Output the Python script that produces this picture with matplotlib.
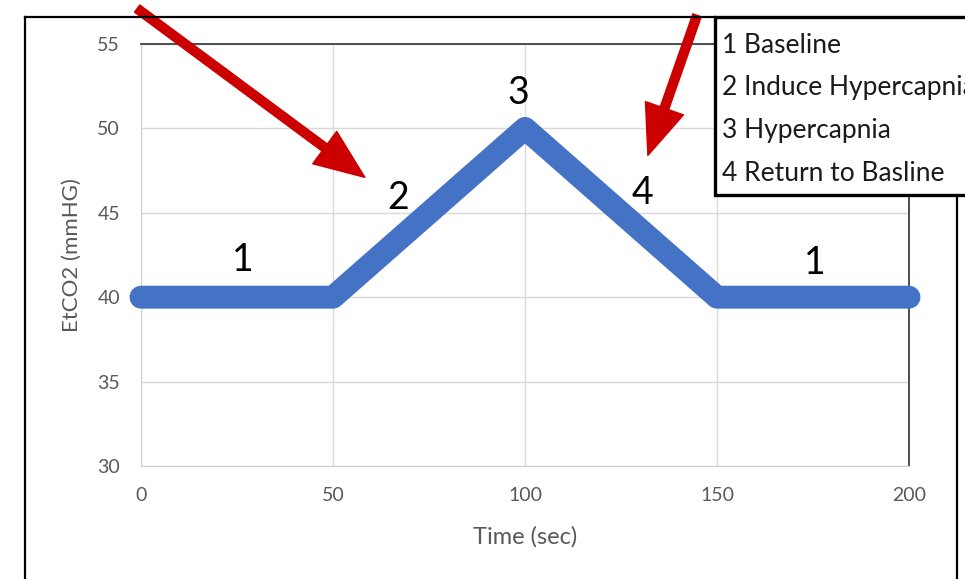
import matplotlib
matplotlib.use('Agg')
import matplotlib.pyplot as plt
from matplotlib.patches import Rectangle
from matplotlib.lines import Line2D

plt.rcParams['font.family'] = ['Lato', 'DejaVu Sans']

# protocol trace
time_sec = [0, 50, 100, 150, 200]
etco2 = [40, 40, 50, 40, 40]

# phase numbers written on the chart
phase_labels = ['1', '2', '3', '4', '1']
phase_x = [26.6, 66.9, 98.2, 130.7, 175.5]
phase_y = [42.2, 45.9, 52.1, 46.2, 42.0]

legend_items = ['1 Baseline', '2 Induce Hypercapnia', '3 Hypercapnia', '4 Return to Basline']

# red callout arrows (tail -> tip, data units)
arrow_tails = [(-1.0, 57.1), (144.8, 56.7)]
arrow_tips = [(58.3, 47.1), (132.0, 48.4)]

xticks = [0, 50, 100, 150, 200]
yticks = [30, 35, 40, 45, 50, 55]

fig = plt.figure(figsize=(9.65, 5.79), dpi=100)
ax = fig.add_axes([0.1461, 0.1952, 0.7959, 0.7288])

ax.plot(time_sec, etco2, c='#4472C4', lw=16.5, solid_capstyle='round',
        solid_joinstyle='round', zorder=3, clip_on=False)

ax.set_xlim(0, 200)
ax.set_ylim(30, 55)
ax.set_xticks(xticks)
ax.set_yticks(yticks)
ax.grid(True, color='#d9d9d9', lw=1)
ax.tick_params(length=0, labelsize=14, labelcolor='#595959', pad=15)
for s in ['left', 'bottom']:
    ax.spines[s].set_color('#d0d0d0')
for s in ['top', 'right']:
    ax.spines[s].set_color('#404040')
    ax.spines[s].set_linewidth(1.3)

ax.set_xlabel('Time (sec)', fontsize=17, color='#595959')
ax.set_ylabel('EtCO2 (mmHG)', fontsize=16, color='#595959')
ax.xaxis.set_label_coords(0.5, -0.142)
ax.yaxis.set_label_coords(-0.077, 0.5)

for lab, x, y in zip(phase_labels, phase_x, phase_y):
    ax.text(x, y, lab, fontsize=27, ha='center', va='center', color='black', zorder=4)

for tail, tip in zip(arrow_tails, arrow_tips):
    ax.annotate('', xy=tip, xytext=tail, annotation_clip=False, zorder=5,
                arrowprops=dict(arrowstyle='simple,head_length=1.8,head_width=1.45,tail_width=0.32',
                                mutation_scale=20, color='#CC0000', shrinkA=0, shrinkB=0))

# outer chart frame
frame_lw = 1.6
fig.add_artist(Line2D([0.0259, 0.0259], [-0.01, 0.9706], transform=fig.transFigure, c='black', lw=frame_lw))
fig.add_artist(Line2D([0.0259, 0.741], [0.9706, 0.9706], transform=fig.transFigure, c='black', lw=frame_lw))
fig.add_artist(Line2D([0.9917, 0.9917], [-0.01, 0.663], transform=fig.transFigure, c='black', lw=frame_lw))

# legend box
fig.add_artist(Rectangle((0.741, 0.663), 0.3, 0.307, transform=fig.transFigure,
                         facecolor='white', edgecolor='black', lw=2.4, zorder=6, clip_on=False))
for i, item in enumerate(legend_items):
    fig.text(0.748, 0.922 - i * 0.0738, item, fontsize=19, va='center', ha='left',
             color='#1a1a1a', zorder=7)

plt.savefig('out.png', dpi=100)
